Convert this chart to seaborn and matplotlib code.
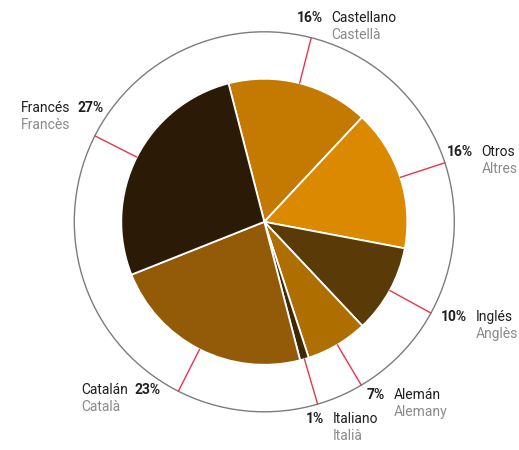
import numpy as np
import matplotlib
matplotlib.use("Agg")
import matplotlib.pyplot as plt
from matplotlib.patches import Circle
import seaborn as sns

# Languages (Spanish name, Catalan name) and their shares in percent
names = ["Castellano", "Otros", "Inglés", "Alemán", "Italiano", "Catalán", "Francés"]
names_ca = ["Castellà", "Altres", "Anglès", "Alemany", "Italià", "Català", "Francès"]
shares = [16, 16, 10, 7, 1, 23, 27]
slice_colors = ["#C47A00", "#DB8A00", "#5A3A06", "#AE6E00", "#3E2806", "#935B08", "#2B1A05"]

sns.set_theme(style="white")
plt.rcParams["font.family"] = ["Roboto", "DejaVu Sans"]

W, H = 519, 450
fig = plt.figure(figsize=(W / 100, H / 100), dpi=100)
ax = fig.add_axes([0, 0, 1, 1])

cx, cy = 264.3, H - 221.8
r_pie, r_ring = 143, 190

palette = sns.color_palette(slice_colors)
wedges, _ = ax.pie(
    shares, colors=palette, radius=r_pie, center=(cx, cy),
    startangle=104.5, counterclock=False, frame=True,
    wedgeprops=dict(edgecolor="white", linewidth=1.3),
)

ax.add_patch(Circle((cx, cy), r_ring, fill=False, edgecolor="#7c7c7c", linewidth=1.0, zorder=1))

# leader lines from the pie edge to the ring, at each slice's mid angle
for w in wedges:
    a = np.deg2rad((w.theta1 + w.theta2) / 2)
    ax.plot([cx + r_pie * np.cos(a), cx + r_ring * np.cos(a)],
            [cy + r_pie * np.sin(a), cy + r_ring * np.sin(a)],
            color="#E8344E", linewidth=1.0, zorder=3)

# label anchors (x, y from top); right-hand labels start at x, left-hand ones end at x
label_pos = [(297, 18), (447, 152), (441, 317), (367, 395), (306, 419), (161, 390), (104, 108)]
right_side = [True, True, True, True, True, False, False]

fs = 10
dark, grey = "#1f1f1f", "#8a8a8a"
for name, name_ca, v, (lx, ly), right in zip(names, names_ca, shares, label_pos, right_side):
    y = H - ly
    if right:
        pct = ax.text(lx, y, f"{v}%", ha="left", va="center", fontsize=fs,
                      fontweight="bold", color=dark)
        nm = ax.annotate(name, xy=(1, 0.5), xycoords=pct, xytext=(6, 0),
                         textcoords="offset points", ha="left", va="center",
                         fontsize=fs, color=dark)
    else:
        pct = ax.text(lx, y, f"{v}%", ha="right", va="center", fontsize=fs,
                      fontweight="bold", color=dark)
        nm = ax.annotate(name, xy=(0, 0.5), xycoords=pct, xytext=(-5, 0),
                         textcoords="offset points", ha="right", va="center",
                         fontsize=fs, color=dark)
    ax.annotate(name_ca, xy=(0, 0.5), xycoords=nm, xytext=(0, -12),
                textcoords="offset points", ha="left", va="center",
                fontsize=fs, color=grey)

ax.set_xlim(0, W)
ax.set_ylim(0, H)
ax.set_aspect("equal")
ax.axis("off")

fig.savefig("out.png", dpi=100, facecolor="white")
